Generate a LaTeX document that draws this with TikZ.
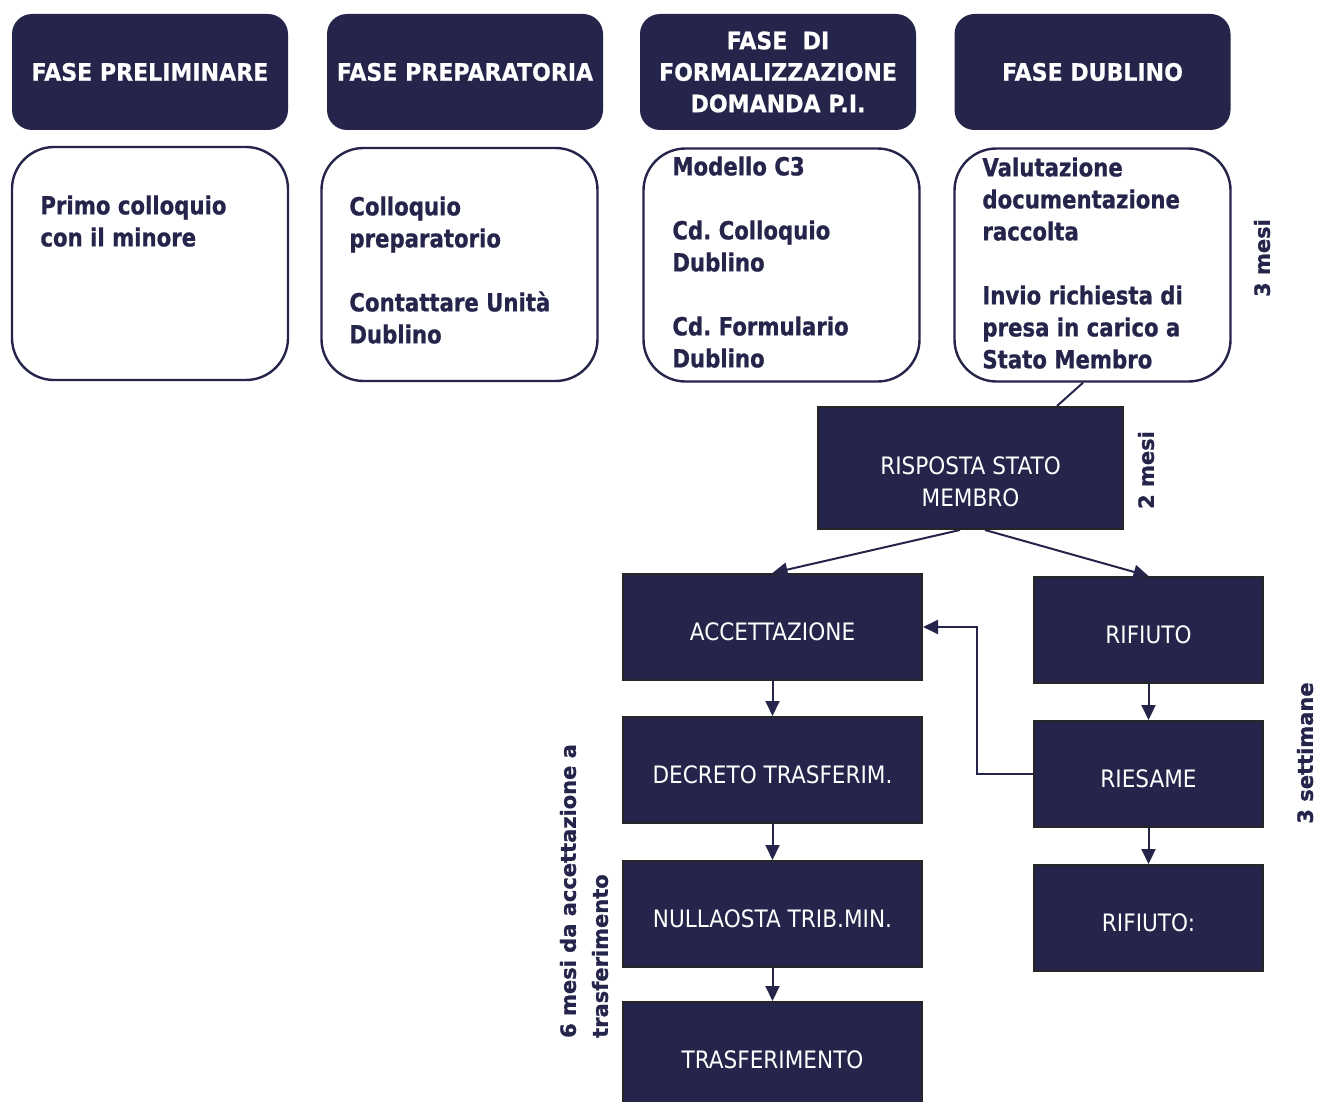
\documentclass[tikz,border=0pt]{standalone}
\usepackage{fontspec}
\setmainfont{DejaVu Sans}
\newfontfamily\fasefont[FakeStretch=0.92, BoldFeatures={FakeBold=0.6}]{DejaVu Sans}
\newfontfamily\vocefont[FakeStretch=0.85, BoldFeatures={FakeBold=0.8}]{DejaVu Sans}
\newfontfamily\tempofont[BoldFeatures={FakeBold=1.2}]{DejaVu Sans}
\newfontfamily\passofont[FakeStretch=0.9]{DejaVu Sans}
\usetikzlibrary{arrows.meta,positioning}
\definecolor{navy}{HTML}{25254B}

\begin{document}
\begin{tikzpicture}[x=0.5pt,y=-0.5pt,
  fase/.style={rectangle, rounded corners=10pt, fill=navy, text=white, minimum width=138pt, minimum height=58pt, inner sep=0pt, align=center, font=\fasefont\bfseries\fontsize{12}{15.75}\selectfont},
  attivita/.style={rectangle, rounded corners=21pt, draw=navy, line width=1.2pt, fill=white, minimum width=138pt, minimum height=116.5pt, inner sep=0pt},
  voce/.style={anchor=north west, inner sep=0pt, align=left, text=navy, font=\vocefont\bfseries\fontsize{12.5}{16}\selectfont\frenchspacing},
  passo/.style={rectangle, fill=navy, draw=black!85, line width=1pt, text=white, inner sep=0pt, text height=13.75pt, text depth=0pt, font=\passofont\fontsize{12}{16}\selectfont},
  passotesto/.style={inner sep=0pt, align=center, text=white, font=\passofont\fontsize{12}{16}\selectfont},
  tempo/.style={rotate=90, inner sep=0pt, align=left, text=navy, font=\tempofont\bfseries\fontsize{10.5}{16}\selectfont},
  freccia/.style={draw=navy, line width=1pt, -{Triangle[length=7.5pt,width=7pt]}}
]
\useasboundingbox (0,0) rectangle (1317,1102);

% fasi
\node[fase] (fase-prel) at (150,72) {FASE PRELIMINARE};
\node[fase] (fase-prep) at (465,72) {FASE PREPARATORIA};
\node[fase] (fase-form) at (778,72) {FASE~~DI\\FORMALIZZAZIONE\\DOMANDA P.I.};
\node[fase] (fase-dub) at (1092.5,72) {FASE DUBLINO};

% attivita
\node[attivita] (att-prel) at (150,263.5) {};
\node[attivita] (att-prep) at (459.5,264.5) {};
\node[attivita] (att-form) at (781.5,265) {};
\node[attivita] (att-dub) at (1092.5,265) {};
\node[voce] (txt-prel) at (40,195) {Primo colloquio\\con il minore};
\node[voce] (txt-prep) at (349,196) {Colloquio\\preparatorio\\[16pt]Contattare Unità\\Dublino};
\node[voce] (txt-form) at (672,156) {Modello C3\\[16pt]Cd. Colloquio\\Dublino\\[16pt]Cd. Formulario\\Dublino};
\node[voce] (txt-dub) at (982,157) {Valutazione\\documentazione\\raccolta\\[16pt]Invio richiesta di\\presa in carico a\\Stato Membro};

% passi
\node[passo, minimum width=152.5pt, minimum height=61pt] (risposta) at (970.5,468) {};
\node[passotesto] (risposta-t) at (970.5,481.5) {RISPOSTA STATO\\MEMBRO};
\node[passo, minimum width=149.5pt, minimum height=53pt] (accettazione) at (772.5,627) {ACCETTAZIONE};
\node[passo, minimum width=149.5pt, minimum height=53pt] (decreto) at (772.5,770) {DECRETO TRASFERIM.};
\node[passo, minimum width=149.5pt, minimum height=53pt] (nullaosta) at (772.5,914) {NULLAOSTA TRIB.MIN.};
\node[passo, minimum width=149.5pt, minimum height=53pt] (trasferimento) at (772.5,1055) {TRASFERIMENTO};
\node[passo, minimum width=114.5pt, minimum height=53pt] (rifiuto) at (1148.5,630) {RIFIUTO};
\node[passo, minimum width=114.5pt, minimum height=53pt] (riesame) at (1148.5,774) {RIESAME};
\node[passo, minimum width=114.5pt, minimum height=53pt] (rifiuto-fin) at (1148.5,918) {RIFIUTO:};

% tempi
\node[tempo] (t-3mesi) at (1262,258) {3 mesi};
\node[tempo] (t-2mesi) at (1146,470) {2 mesi};
\node[tempo] (t-3sett) at (1305,753) {3 settimane};
\node[tempo] (t-6mesi) at (584,891) {6 mesi da accettazione a\\trasferimento};

% collegamenti
\draw[navy, line width=1pt] ([xshift=-4.75pt]att-dub.south) -- ([xshift=43.25pt]risposta.north);
\draw[freccia] ([xshift=-5.25pt]risposta.south) -- (accettazione.north);
\draw[freccia] ([xshift=7.25pt]risposta.south) -- (rifiuto.north);
\draw[freccia] (accettazione) -- (decreto);
\draw[freccia] (decreto) -- (nullaosta);
\draw[freccia] (nullaosta) -- (trasferimento);
\draw[freccia] (rifiuto) -- (riesame);
\draw[freccia] (riesame) -- (rifiuto-fin);
\draw[freccia] (riesame.west) -- ++(-56,0) |- (accettazione.east);
\end{tikzpicture}
\end{document}
